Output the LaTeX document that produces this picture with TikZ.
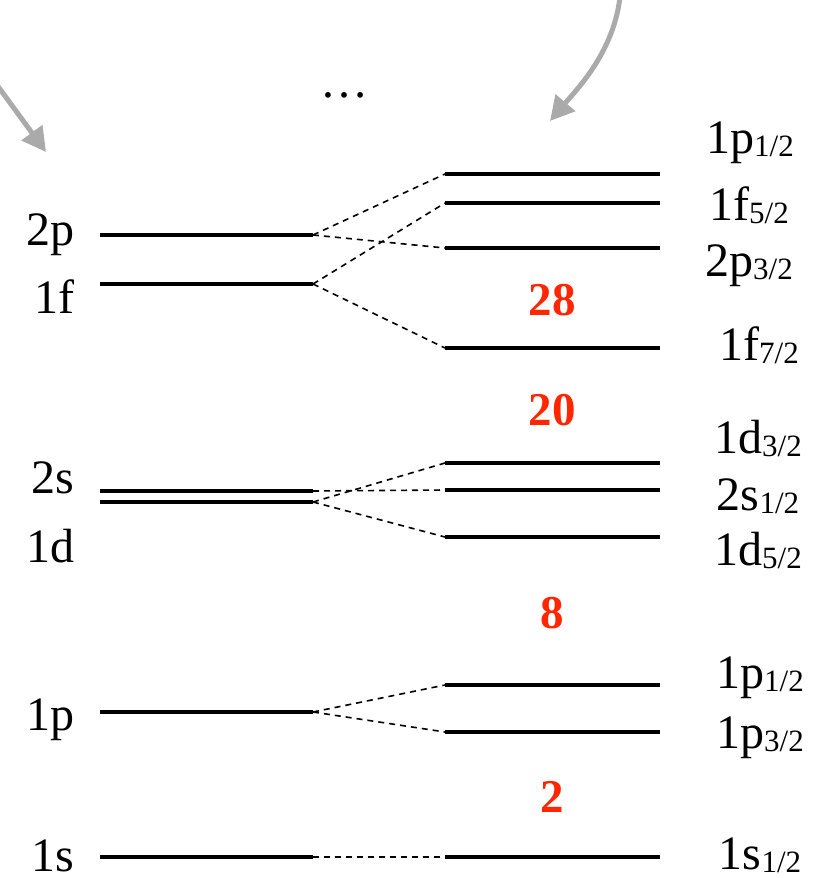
\documentclass[tikz,border=0pt]{standalone}
\usepackage{fontspec}
\setmainfont{Liberation Serif}
\usepackage{xcolor}
\usetikzlibrary{arrows.meta}
\definecolor{magicred}{RGB}{255,38,0}
\definecolor{hintgray}{RGB}{170,170,170}
\newcommand{\jsub}[1]{\raisebox{-1.8pt}{\fontsize{15.5}{16}\selectfont #1}}

\begin{document}
\begin{tikzpicture}[x=0.5pt,y=-0.5pt]
	\tikzstyle{every node}+=[inner sep=0pt,font=\fontsize{24}{28}\selectfont]
	\tikzstyle{level}=[black,line width=2pt]
	\tikzstyle{split}=[black,line width=0.8pt,dash pattern=on 3pt off 2.5pt]
	\tikzstyle{magic}=[text=magicred,font=\fontsize{23.5}{28}\selectfont\bfseries]
	\tikzstyle{hint}=[hintgray,line width=2.5pt,-{Triangle[length=12pt,width=12.5pt]}]
	\useasboundingbox (0,0) rectangle (816,878);
	\begin{scope}
	\clip (0,0) rectangle (816,878);
	\coordinate (hintL) at (-25,55);
	\coordinate (tipL) at (46,152);
	\coordinate (hintR) at (621,-20);
	\coordinate (tipR) at (550,121);
	\draw [hint] (hintL) -- (tipL);
	\draw [hint] (hintR) .. controls (621,45) and (578,88) .. (tipR);
	\end{scope}
	\node [anchor=base] (more) at (344,97) {\ldots};
	\coordinate (a2p) at (100,235);
	\coordinate (b2p) at (313,235);
	\coordinate (a1f) at (100,284);
	\coordinate (b1f) at (313,284);
	\coordinate (a2s) at (100,491);
	\coordinate (b2s) at (313,491);
	\coordinate (a1d) at (100,502);
	\coordinate (b1d) at (313,502);
	\coordinate (a1p) at (100,712);
	\coordinate (b1p) at (313,712);
	\coordinate (a1s) at (100,857);
	\coordinate (b1s) at (313,857);
	\draw [level] (a2p) -- (b2p);
	\draw [level] (a1f) -- (b1f);
	\draw [level] (a2s) -- (b2s);
	\draw [level] (a1d) -- (b1d);
	\draw [level] (a1p) -- (b1p);
	\draw [level] (a1s) -- (b1s);
	\node [anchor=base east] (n2p) at (75,245) {2p};
	\node [anchor=base east] (n1f) at (75,313) {1f};
	\node [anchor=base east] (n2s) at (75,493) {2s};
	\node [anchor=base east] (n1d) at (75,562) {1d};
	\node [anchor=base east] (n1p) at (75,730) {1p};
	\node [anchor=base east] (n1s) at (75,871) {1s};
	\coordinate (c1pt) at (445,174);
	\coordinate (d1pt) at (660,174);
	\coordinate (c1f5) at (445,203);
	\coordinate (d1f5) at (660,203);
	\coordinate (c2p3) at (445,248);
	\coordinate (d2p3) at (660,248);
	\coordinate (c1f7) at (445,348);
	\coordinate (d1f7) at (660,348);
	\coordinate (c1d3) at (445,463);
	\coordinate (d1d3) at (660,463);
	\coordinate (c2s1) at (445,490);
	\coordinate (d2s1) at (660,490);
	\coordinate (c1d5) at (445,537);
	\coordinate (d1d5) at (660,537);
	\coordinate (c1p1) at (445,685);
	\coordinate (d1p1) at (660,685);
	\coordinate (c1p3) at (445,732);
	\coordinate (d1p3) at (660,732);
	\coordinate (c1s1) at (445,857);
	\coordinate (d1s1) at (660,857);
	\draw [level] (c1pt) -- (d1pt);
	\draw [level] (c1f5) -- (d1f5);
	\draw [level] (c2p3) -- (d2p3);
	\draw [level] (c1f7) -- (d1f7);
	\draw [level] (c1d3) -- (d1d3);
	\draw [level] (c2s1) -- (d2s1);
	\draw [level] (c1d5) -- (d1d5);
	\draw [level] (c1p1) -- (d1p1);
	\draw [level] (c1p3) -- (d1p3);
	\draw [level] (c1s1) -- (d1s1);
	\draw [split] (b2p) -- (c1pt);
	\draw [split] (b2p) -- (c2p3);
	\draw [split] (b1f) -- (c1f5);
	\draw [split] (b1f) -- (c1f7);
	\draw [split] (b2s) -- (c2s1);
	\draw [split] (b1d) -- (c1d3);
	\draw [split] (b1d) -- (c1d5);
	\draw [split] (b1p) -- (c1p1);
	\draw [split] (b1p) -- (c1p3);
	\draw [split] (b1s) -- (c1s1);
	\node [anchor=base] (m1pt) at (750,153) {1p\jsub{1/2}};
	\node [anchor=base] (m1f5) at (749,220) {1f\jsub{5/2}};
	\node [anchor=base] (m2p3) at (749,276) {2p\jsub{3/2}};
	\node [anchor=base] (m1f7) at (759,360) {1f\jsub{7/2}};
	\node [anchor=base] (m1d3) at (758,453) {1d\jsub{3/2}};
	\node [anchor=base] (m2s1) at (758,510) {2s\jsub{1/2}};
	\node [anchor=base] (m1d5) at (758,565) {1d\jsub{5/2}};
	\node [anchor=base] (m1p1) at (760,688) {1p\jsub{1/2}};
	\node [anchor=base] (m1p3) at (760,748) {1p\jsub{3/2}};
	\node [anchor=base] (m1s1) at (760,869) {1s\jsub{1/2}};
	\node [magic,anchor=base] (k28) at (552,315) {28};
	\node [magic,anchor=base] (k20) at (552,425) {20};
	\node [magic,anchor=base] (k8) at (552,628) {8};
	\node [magic,anchor=base] (k2) at (552,812) {2};
\end{tikzpicture}
\end{document}
